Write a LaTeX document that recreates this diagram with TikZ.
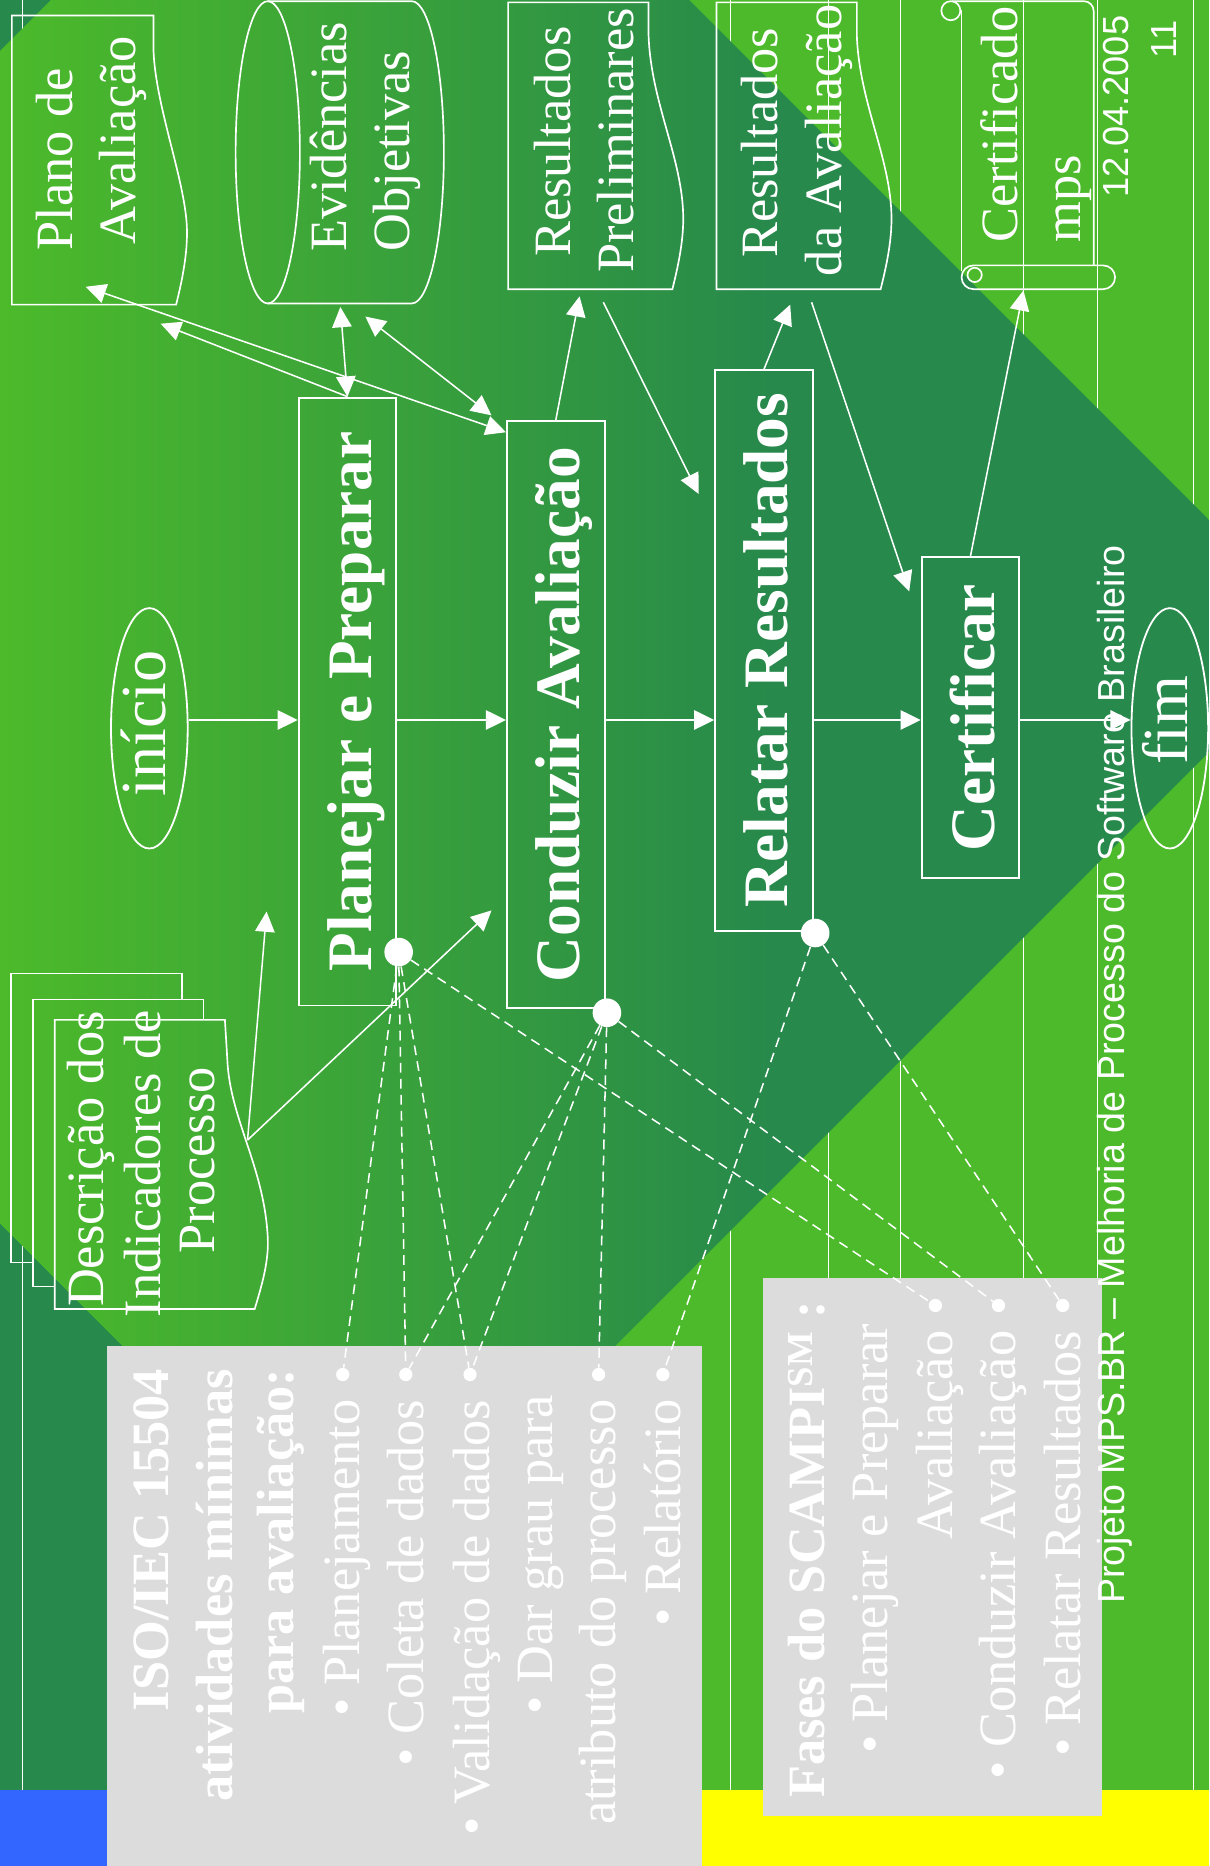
\documentclass[tikz,border=0pt]{standalone}
\usepackage{fontspec}
\setmainfont{Liberation Serif}
\newfontfamily\sansf{Liberation Sans}
\usetikzlibrary{arrows.meta,shapes.geometric}
\definecolor{lgreen}{HTML}{4CBA2A}
\definecolor{dgreen}{HTML}{27894B}
\definecolor{gbox}{HTML}{DCDCDC}
\definecolor{bluebar}{RGB}{51,102,255}
\definecolor{sunyellow}{RGB}{255,255,0}
\newcommand\fnreg{\fontsize{37.6pt}{45pt}\selectfont}
\newcommand\fnbold{\fontsize{37.6pt}{45pt}\selectfont\bfseries}
\newcommand\fnbox{\fontsize{45.4pt}{54pt}\selectfont\bfseries}
\newcommand\fnoval{\fontsize{46pt}{55pt}\selectfont}
\newcommand\fnsans{\sansf\fontsize{26pt}{31pt}\selectfont}
\newcommand\fnfoot{\sansf\fontsize{27pt}{32pt}\selectfont}
\begin{document}
\begin{tikzpicture}[x=0.3mm,y=-0.3mm,
  lbl/.style={rotate=90, text=white, inner sep=0pt, font=\fnreg},
  gtxt/.style={lbl, anchor=base east},
  proc/.style={draw=white, line width=1.4pt, rotate=90, inner sep=0pt, text=white, font=\fnbox, text height=34pt, text depth=0pt, minimum height=70pt},
  oval/.style={draw=white, line width=1.3pt, ellipse, inner sep=0pt, minimum width=55pt, minimum height=172.4pt},
  shp/.style={draw=white, line width=1.2pt},
  arr/.style={draw=white, line width=1.1pt, -{Triangle[length=14.5pt,width=14pt]}},
  arrb/.style={draw=white, line width=1.1pt, {Triangle[length=14.5pt,width=14pt]}-{Triangle[length=14.5pt,width=14pt]}},
  dsh/.style={draw=white, line width=1.1pt, dash pattern=on 7pt off 4.5pt},
  bigdot/.style={circle, fill=white, inner sep=0pt, minimum size=20.5pt},
  smalldot/.style={circle, fill=white, inner sep=0pt, minimum size=9.5pt},
  tline/.style={white, line width=0.6pt}]
\useasboundingbox (0,0) rectangle (1016,1568);
\clip (0,0) rectangle (1016,1568);

\fill[lgreen] (0,0) rectangle (1016,1568);
\fill[dgreen] (0,0) -- (43,0) -- (0,43) -- cycle;
\fill[dgreen] (0,1028) -- (310,1338) -- (310,1504) -- (0,1504) -- cycle;
\foreach \x in {19,614,696,757,860,922,1003}
  \draw[tline] (\x,0) -- (\x,1504);
\begin{scope}
\clip (43,0) -- (579,0) -- (1016,437) -- (1016,632) -- (310,1338) -- (0,1028) -- (0,43) -- cycle;
\shade[left color=lgreen, right color=dgreen] (0,0) rectangle (650,1568);
\fill[dgreen] (650,0) rectangle (1016,1568);
\end{scope}
\fill[bluebar] (0,1504) rectangle (90,1568);
\fill[sunyellow] (588,1504) rectangle (1016,1568);
\fill[gbox] (90,1131) rectangle (590,1568);
\fill[gbox] (641,1074) rectangle (926,1526);

\coordinate (row) at (0,605);
\node[oval] (inicio) at (125.5,612) {};
\node[lbl, font=\fnoval, anchor=base] (inicio-t) at (139,608) {início};
\node[proc, minimum width=436pt] (plan) at (292,589.5) {Planejar e Preparar};
\node[proc, minimum width=420.8pt] (cond) at (467,600.5) {Conduzir Avaliação};
\node[proc, minimum width=402pt] (rel) at (642,546.5) {Relatar Resultados};
\node[proc, minimum width=230.5pt] (cert) at (815.5,603) {Certificar};
\node[oval] (fim) at (983,612) {};
\node[lbl, font=\fnoval, anchor=base] (fim-t) at (998,605) {fim};

\draw[shp] (129,13) -- (10,13) -- (10,256) -- (148,256) .. controls (153,236) and (158,212) .. (157,190) .. controls (155,150) and (131,90) .. (129,43) -- cycle;
\node[lbl, anchor=base] (plano-a) at (61,134) {Plano de};
\node[lbl, anchor=base] (plano-b) at (114,118) {Avaliação};

\draw[shp] (225,128) ellipse [x radius=27, y radius=127];
\draw[shp] (225,1) -- (346,1) arc[start angle=-90, end angle=90, x radius=27, y radius=127] -- (225,255);
\node[lbl, anchor=base] (evid-a) at (291,115) {Evidências};
\node[lbl, anchor=base] (evid-b) at (344,127) {Objetivas};

\draw[shp] (545,2) -- (427,2) -- (427,243) -- (565,243) .. controls (570,223) and (575,200) .. (574,178) .. controls (572,130) and (547,85) .. (545,30) -- cycle;
\node[lbl, anchor=base] (prel-a) at (479,119) {Resultados};
\node[lbl, anchor=base] (prel-b) at (532,118) {Preliminares};

\draw[shp] (720,2) -- (602,2) -- (602,243) -- (740,243) .. controls (745,223) and (750,200) .. (749,178) .. controls (747,130) and (722,85) .. (720,30) -- cycle;
\node[lbl, anchor=base] (resav-a) at (653,120) {Resultados};
\node[lbl, anchor=base] (resav-b) at (707,118) {da Avaliação};

\draw[shp] (808,228) -- (808,8);
\draw[shp, rounded corners=7] (800,1) -- (919,1) -- (919,223);
\draw[shp] (799,9) circle [radius=8];
\draw[shp] (818,223) -- (927,223) arc[start angle=-90, end angle=90, radius=10] -- (818,243) arc[start angle=90, end angle=270, radius=10];
\draw[shp] (819,231) circle [radius=6];
\node[lbl, anchor=base west] (certmps-a) at (855,204) {Certificado};
\node[lbl, anchor=base west] (certmps-b) at (908,204) {mps};

\draw[shp] (153,840) -- (153,818) -- (9,818) -- (9,1061) -- (28,1061);
\draw[shp] (171,857) -- (171,840) -- (28,840) -- (28,1081) -- (46,1081);
\draw[shp] (189,857) -- (46,857) -- (46,1100) -- (214,1100) .. controls (220,1080) and (226,1060) .. (225,1040) .. controls (222,980) and (193,940) .. (191,890) -- cycle;
\node[lbl, anchor=base] (desc-a) at (87,974) {Descrição dos};
\node[lbl, anchor=base] (desc-b) at (135,978) {Indicadores de};
\node[lbl, anchor=base] (desc-c) at (180,975) {Processo};

\node[lbl, font=\fnsans, anchor=base east] (date) at (948,13) {12.04.2005};
\node[lbl, font=\fnsans, anchor=base east] (page) at (989,17) {11};
\node[lbl, font=\fnfoot, anchor=base west] (foot) at (945,1348) {Projeto MPS.BR – Melhoria de Processo do Software Brasileiro};

\coordinate (plano-in) at (72,241);
\coordinate (plano-in2) at (135,272);
\coordinate (evid-p) at (286,258);
\coordinate (evid-c) at (307,266);
\coordinate (cond-hint2) at (413,349);
\coordinate (prel-in) at (487,249);
\coordinate (prel-out) at (507,254);
\coordinate (rel-hint) at (587,415);
\coordinate (resav-in) at (664,256);
\coordinate (resav-out) at (682,254);
\coordinate (cert-hint) at (764,497);
\coordinate (certmps-in) at (860,244);
\coordinate (desc-out) at (208,958);
\coordinate (plan-hint) at (224,766);
\coordinate (cond-hint) at (413,765);

\draw[arr] (inicio.east |- row) -- (plan.north |- row);
\draw[arr] (plan.south |- row) -- (cond.north |- row);
\draw[arr] (cond.south |- row) -- (rel.north |- row);
\draw[arr] (rel.south |- row) -- (cert.north |- row);
\draw[arr] (cert.south |- row) -- (fim.west |- row);
\draw[arrb] (plano-in) -- (cond.10.9);
\draw[arr] (plan.east) -- (plano-in2);
\draw[arrb] (evid-p) -- (plan.east);
\draw[arrb] (evid-c) -- (cond-hint2);
\draw[arr] (cond.east) -- (prel-in);
\draw[arr] (prel-out) -- (rel-hint);
\draw[arr] (rel.east) -- (resav-in);
\draw[arr] (resav-out) -- (cert-hint);
\draw[arr] (cert.east) -- (certmps-in);
\draw[arr] (desc-out) -- (plan-hint);
\draw[arr] (desc-out) -- (cond-hint);

\node[gtxt, font=\fnbold] (iso-a) at (142,1150) {ISO/IEC 15504};
\node[gtxt, font=\fnbold] (iso-b) at (195,1150) {atividades mínimas};
\node[gtxt, font=\fnbold] (iso-c) at (247,1150) {para avaliação:};
\node[gtxt] (iso-d) at (302,1176) {• Planejamento};
\node[gtxt] (iso-e) at (356,1176) {• Coleta de dados};
\node[gtxt] (iso-f) at (411,1176) {• Validação de dados};
\node[gtxt] (iso-g) at (464,1172) {• Dar grau para};
\node[gtxt] (iso-h) at (517,1176) {atributo do processo};
\node[gtxt] (iso-i) at (572,1176) {• Relatório};
\node[gtxt, font=\fnbold] (sc-a) at (693,1093) {Fases do SCAMPI\textsuperscript{SM} :};
\node[gtxt] (sc-b) at (746,1112) {• Planejar e Preparar};
\node[gtxt] (sc-c) at (800,1118) {Avaliação};
\node[gtxt] (sc-d) at (853,1118) {• Conduzir Avaliação};
\node[gtxt] (sc-e) at (908,1118) {• Relatar Resultados};

\node[bigdot] (pdot) at (335,800) {};
\node[bigdot] (cdot) at (510,851) {};
\node[bigdot] (rdot) at (685,784) {};
\node[smalldot] (sd1) at (288,1155) {};
\node[smalldot] (sd2) at (341,1155) {};
\node[smalldot] (sd3) at (395,1155) {};
\node[smalldot] (sd5) at (503,1155) {};
\node[smalldot] (sd6) at (557,1155) {};
\node[smalldot] (se1) at (786,1097) {};
\node[smalldot] (se2) at (839,1097) {};
\node[smalldot] (se3) at (893,1097) {};

\draw[dsh] (pdot) -- (sd1);
\draw[dsh] (pdot) -- (sd2);
\draw[dsh] (pdot) -- (sd3);
\draw[dsh] (pdot) -- (se1);
\draw[dsh] (cdot) -- (sd2);
\draw[dsh] (cdot) -- (sd3);
\draw[dsh] (cdot) -- (sd5);
\draw[dsh] (cdot) -- (se2);
\draw[dsh] (rdot) -- (sd6);
\draw[dsh] (rdot) -- (se3);
\end{tikzpicture}
\end{document}
